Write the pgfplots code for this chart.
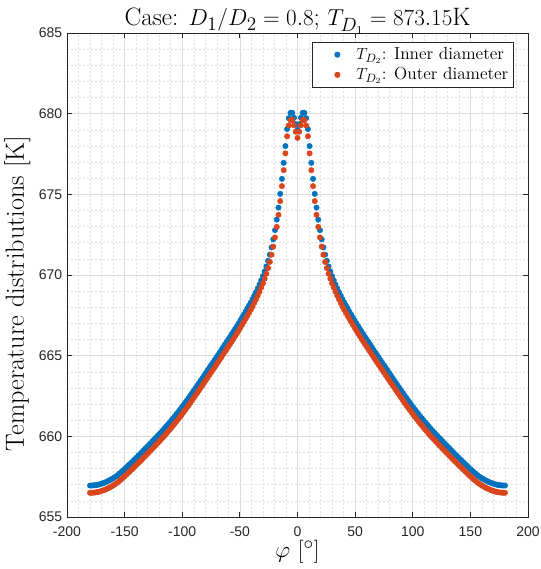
\documentclass[border=0pt]{standalone}
\usepackage{fontspec}
\usepackage{pgfplots}
\usepackage{pgfplotstable}
\pgfplotsset{compat=1.18}
\newfontfamily\ticfont{Liberation Sans}
\definecolor{mblue}{rgb}{0,0.447,0.741}
\definecolor{mred}{rgb}{0.85,0.27,0.11}
\definecolor{axgray}{rgb}{0.15,0.15,0.15}
\definecolor{gridmaj}{rgb}{0.86,0.86,0.86}
\definecolor{gridmin}{rgb}{0.88,0.88,0.88}

% phi [deg], T inner, T outer
\pgfplotstableread{
x      inner   outer
-180   656.95  656.50
-178.5 656.95  656.50
-177   656.96  656.51
-175.5 656.97  656.52
-174   656.99  656.54
-172.5 657.01  656.56
-171   657.04  656.59
-169.5 657.08  656.63
-168   657.11  656.66
-166.5 657.16  656.71
-165   657.21  656.76
-163.5 657.26  656.81
-162   657.32  656.87
-160.5 657.38  656.93
-159   657.45  657.00
-157.5 657.52  657.07
-156   657.60  657.15
-154.5 657.69  657.24
-153   657.78  657.33
-151.5 657.87  657.42
-150   657.97  657.52
-148.5 658.07  657.62
-147   658.18  657.73
-145.5 658.28  657.83
-144   658.38  657.93
-142.5 658.49  658.04
-141   658.59  658.14
-139.5 658.70  658.25
-138   658.81  658.36
-136.5 658.91  658.46
-135   659.02  658.57
-133.5 659.13  658.68
-132   659.24  658.79
-130.5 659.35  658.90
-129   659.46  659.01
-127.5 659.57  659.12
-126   659.68  659.23
-124.5 659.79  659.34
-123   659.90  659.45
-121.5 660.02  659.57
-120   660.13  659.68
-118.5 660.25  659.80
-117   660.36  659.91
-115.5 660.48  660.03
-114   660.60  660.15
-112.5 660.73  660.28
-111   660.85  660.40
-109.5 660.98  660.53
-108   661.11  660.66
-106.5 661.24  660.79
-105   661.38  660.93
-103.5 661.51  661.06
-102   661.65  661.20
-100.5 661.79  661.34
-99    661.93  661.48
-97.5  662.08  661.63
-96    662.22  661.77
-94.5  662.37  661.92
-93    662.52  662.07
-91.5  662.68  662.23
-90    662.83  662.38
-88.5  662.99  662.54
-87    663.14  662.69
-85.5  663.30  662.85
-84    663.46  663.01
-82.5  663.61  663.16
-81    663.77  663.32
-79.5  663.93  663.48
-78    664.09  663.64
-76.5  664.25  663.80
-75    664.41  663.96
-73.5  664.56  664.11
-72    664.72  664.27
-70.5  664.88  664.43
-69    665.04  664.59
-67.5  665.20  664.75
-66    665.36  664.91
-64.5  665.53  665.08
-63    665.69  665.24
-61.5  665.85  665.40
-60    666.01  665.56
-58.5  666.17  665.72
-57    666.34  665.89
-55.5  666.50  666.05
-54    666.67  666.22
-52.5  666.84  666.39
-51    667.01  666.56
-49.5  667.19  666.74
-48    667.37  666.92
-46.5  667.55  667.10
-45    667.73  667.28
-43.5  667.92  667.47
-42    668.11  667.66
-40.5  668.30  667.85
-39    668.50  668.05
-37.5  668.72  668.27
-36    668.94  668.49
-34.5  669.17  668.72
-33    669.41  668.96
-31.5  669.67  669.22
-30    669.93  669.48
-28.5  670.22  669.77
-27    670.53  670.08
-25.5  670.88  670.43
-24    671.26  670.81
-22.5  671.71  671.26
-21    672.21  671.76
-19.5  672.78  672.33
-18    673.43  672.98
-16.5  674.18  673.73
-15    675.03  674.58
-13.5  675.96  675.51
-12    676.95  676.50
-10.5  677.99  677.54
-9     679.05  678.60
-7.5   679.72  679.27
-6     680.05  679.60
-4.5   680.05  679.60
-3     679.75  679.28
-1.5   679.35  678.88
0      679.00  678.50
1.5    679.35  678.88
3      679.75  679.28
4.5    680.05  679.60
6      680.05  679.60
7.5    679.72  679.27
9      679.05  678.60
10.5   677.99  677.54
12     676.95  676.50
13.5   675.96  675.51
15     675.03  674.58
16.5   674.18  673.73
18     673.43  672.98
19.5   672.78  672.33
21     672.21  671.76
22.5   671.71  671.26
24     671.26  670.81
25.5   670.88  670.43
27     670.53  670.08
28.5   670.22  669.77
30     669.93  669.48
31.5   669.67  669.22
33     669.41  668.96
34.5   669.17  668.72
36     668.94  668.49
37.5   668.72  668.27
39     668.50  668.05
40.5   668.30  667.85
42     668.11  667.66
43.5   667.92  667.47
45     667.73  667.28
46.5   667.55  667.10
48     667.37  666.92
49.5   667.19  666.74
51     667.01  666.56
52.5   666.84  666.39
54     666.67  666.22
55.5   666.50  666.05
57     666.34  665.89
58.5   666.17  665.72
60     666.01  665.56
61.5   665.85  665.40
63     665.69  665.24
64.5   665.53  665.08
66     665.36  664.91
67.5   665.20  664.75
69     665.04  664.59
70.5   664.88  664.43
72     664.72  664.27
73.5   664.56  664.11
75     664.41  663.96
76.5   664.25  663.80
78     664.09  663.64
79.5   663.93  663.48
81     663.77  663.32
82.5   663.61  663.16
84     663.46  663.01
85.5   663.30  662.85
87     663.14  662.69
88.5   662.99  662.54
90     662.83  662.38
91.5   662.68  662.23
93     662.52  662.07
94.5   662.37  661.92
96     662.22  661.77
97.5   662.08  661.63
99     661.93  661.48
100.5  661.79  661.34
102    661.65  661.20
103.5  661.51  661.06
105    661.38  660.93
106.5  661.24  660.79
108    661.11  660.66
109.5  660.98  660.53
111    660.85  660.40
112.5  660.73  660.28
114    660.60  660.15
115.5  660.48  660.03
117    660.36  659.91
118.5  660.25  659.80
120    660.13  659.68
121.5  660.02  659.57
123    659.90  659.45
124.5  659.79  659.34
126    659.68  659.23
127.5  659.57  659.12
129    659.46  659.01
130.5  659.35  658.90
132    659.24  658.79
133.5  659.13  658.68
135    659.02  658.57
136.5  658.91  658.46
138    658.81  658.36
139.5  658.70  658.25
141    658.59  658.14
142.5  658.49  658.04
144    658.38  657.93
145.5  658.28  657.83
147    658.18  657.73
148.5  658.07  657.62
150    657.97  657.52
151.5  657.87  657.42
153    657.78  657.33
154.5  657.69  657.24
156    657.60  657.15
157.5  657.52  657.07
159    657.45  657.00
160.5  657.38  656.93
162    657.32  656.87
163.5  657.26  656.81
165    657.21  656.76
166.5  657.16  656.71
168    657.11  656.66
169.5  657.08  656.63
171    657.04  656.59
172.5  657.01  656.56
174    656.99  656.54
175.5  656.97  656.52
177    656.96  656.51
178.5  656.95  656.50
180    656.95  656.50
}\datatable

\begin{document}
\begin{tikzpicture}
\path[use as bounding box] (-50.25pt,-39pt) rectangle (355.5pt,387.75pt);
\begin{axis}[
    scale only axis,
    width=345.75pt, height=363pt,
    xmin=-200, xmax=200, ymin=655, ymax=685,
    xtick={-200,-150,...,200},
    xticklabels={-200,-150,-100,-50,0,50,100,150,200},
    ytick={655,660,...,685},
    yticklabels={655,660,665,670,675,680,685},
    minor x tick num=4, minor y tick num=4,
    grid=both,
    major grid style={draw=gridmaj, line width=0.5pt},
    minor grid style={draw=gridmin, line width=0.4pt, dash pattern=on 1.5pt off 1.5pt},
    axis line style={draw=axgray, line width=0.6pt},
    tick style={draw=axgray, line width=0.6pt},
    major tick length=3.5pt, minor tick length=0pt,
    tick align=inside,
    xtick pos=both, ytick pos=both,
    ticklabel style={font=\ticfont\fontsize{10.5}{12}\selectfont, text=axgray},
    xticklabel style={yshift=-4pt},
    title={Case: $D_1/D_2 = 0.8$; $T_{D_1} = 873.15$K},
    title style={at={(axis description cs:0.5,1.0145)}, anchor=base, yshift=-6pt, font=\fontsize{18.9}{22}\selectfont},
    xlabel={$\varphi\ [^\circ]$},
    ylabel={Temperature distributions [K]},
    xlabel style={at={(axis description cs:0.5,-0.0847)}, anchor=base, font=\fontsize{19}{22}\selectfont},
    ylabel style={at={(axis description cs:-0.0933,0.462)}, anchor=base, font=\fontsize{19.7}{23}\selectfont},
    legend style={at={(axis description cs:0.9696,0.9814)}, anchor=north east,
        draw=axgray, line width=0.5pt, font=\fontsize{13}{15}\selectfont,
        inner xsep=1.5pt, inner ysep=2.5pt, row sep=1.5pt,
        nodes={inner xsep=2.5pt, inner ysep=1.5pt}},
    legend cell align=left,
    legend image code/.code={
        \path[draw=none, fill=none] (0pt,0pt) -- (29.25pt,0pt);
        \draw[#1] plot coordinates {(17.5pt,0pt)};
    },
]
\addplot[only marks, mark=*, mark size=2pt, color=mblue] table[x=x, y=inner] {\datatable};
\addlegendentry{$T_{D_2}$: Inner diameter}
\addplot[only marks, mark=*, mark size=2pt, color=mred] table[x=x, y=outer] {\datatable};
\addlegendentry{$T_{D_2}$: Outer diameter}
\end{axis}
\end{tikzpicture}
\end{document}
